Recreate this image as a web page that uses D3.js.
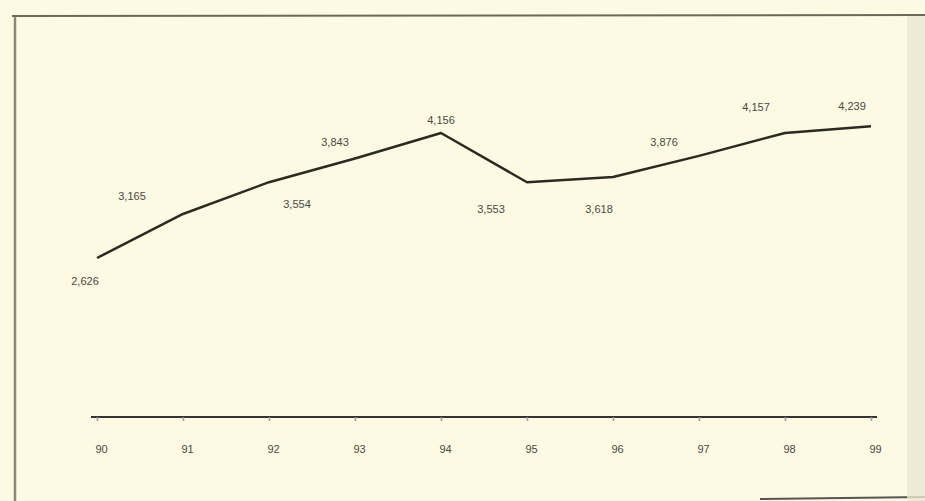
<!DOCTYPE html>
<html>
<head>
<meta charset="utf-8">
<script src="https://cdn.jsdelivr.net/npm/d3@7"></script>
<style>
  html, body { margin: 0; padding: 0; background: #fdf9e2; }
  svg { display: block; }
  .lbl { font-family: "Liberation Sans", Arial, sans-serif; font-size: 11px; fill: #4a4a44; }
</style>
</head>
<body>
<svg id="chart" width="925" height="501"></svg>
<script>
const years = ['90', '91', '92', '93', '94', '95', '96', '97', '98', '99']
const values = [2626, 3165, 3554, 3843, 4156, 3553, 3618, 3876, 4157, 4239]
// label offsets from each point (text centre)
const labelDx = [-12, -51, 28, -20, 0, -36, -14, -35, -29, -19]
const labelDy = [24, -17, 23, -15, -12, 28, 33, -13, -25, -19]

const svg = d3.select('#chart')
const W = 925, H = 501

// frame
svg.append('rect').attr('width', W).attr('height', H).attr('fill', '#fdf9e2')
svg.append('line').attr('x1', 12).attr('x2', 925).attr('y1', 16).attr('y2', 15)
  .attr('stroke', '#6b6a58').attr('stroke-width', 2)
svg.append('line').attr('x1', 15).attr('x2', 15).attr('y1', 17).attr('y2', 501)
  .attr('stroke', '#8a897a').attr('stroke-width', 2.5)
svg.append('line').attr('x1', 760).attr('x2', 925).attr('y1', 499).attr('y2', 497)
  .attr('stroke', '#555').attr('stroke-width', 2)
svg.append('rect').attr('x', 907).attr('y', 16).attr('width', 18).attr('height', 485)
  .attr('fill', '#ebe6cf').attr('opacity', 0.8)

const x = d3.scalePoint().domain(years).range([97, 871])
const y = d3.scaleLinear().domain([2626, 4156]).range([258, 133])
const axisY = 417

// axis
const axis = d3.axisBottom(x).tickSize(4).tickPadding(24).tickFormat(d => d)
const gAxis = svg.append('g').attr('transform', `translate(0,${axisY})`).call(axis)
gAxis.select('.domain').attr('stroke', '#333').attr('stroke-width', 2)
  .attr('d', `M${x('90') - 6},0H${x('99') + 6}`)
gAxis.selectAll('.tick line').attr('stroke', '#999').attr('stroke-width', 1.5)
gAxis.selectAll('.tick text')
  .attr('class', 'lbl').attr('dx', 4)
  .style('font-size', '11px').style('font-family', '"Liberation Sans", Arial, sans-serif')
  .attr('fill', '#4a4a44')

// line
const line = d3.line().x((d, i) => x(years[i])).y(d => y(d))
svg.append('path').datum(values)
  .attr('d', line)
  .attr('fill', 'none')
  .attr('stroke', '#2b2a22')
  .attr('stroke-width', 2.5)
  .attr('stroke-linejoin', 'round')

// value labels
svg.append('g').selectAll('text').data(values).join('text')
  .attr('class', 'lbl')
  .attr('x', (d, i) => x(years[i]) + labelDx[i])
  .attr('y', (d, i) => y(d) + labelDy[i])
  .attr('text-anchor', 'middle')
  .attr('dominant-baseline', 'middle')
  .text(d => d3.format(',')(d))
</script>
</body>
</html>
